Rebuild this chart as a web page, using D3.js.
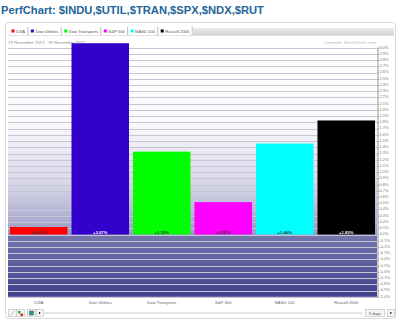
<!DOCTYPE html>
<html>
<head>
<meta charset="utf-8">
<script src="https://cdn.jsdelivr.net/npm/d3@7"></script>
<style>
  body { margin: 0; background: #fff; }
  text { font-family: Arial, "Liberation Sans", sans-serif; }
</style>
</head>
<body>
<div id="chart"></div>
<script>
var categories = ["DJIA", "Dow Utilities", "Dow Transports", "S&P 500", "NASD 100", "Russell 2000"];
var changes = [0.12, 3.07, 1.33, 0.52, 1.46, 1.83];
var barColors = ["#ff0000", "#3300cc", "#00ff00", "#ff00ff", "#00ffff", "#000000"];
var labelColors = ["#333", "#fff", "#333", "#333", "#333", "#fff"];
var yTicks = d3.range(-10, 31).map(function (d) { return d / 10; });

var W = 400, H = 321;
var svg = d3.select("#chart").append("svg").attr("width", W).attr("height", H);

// title
svg.append("text").text("PerfChart: $INDU,$UTIL,$TRAN,$SPX,$NDX,$RUT")
    .attr("x", 1).attr("y", 14).attr("font-size", "11.2px").attr("font-weight", "bold").attr("fill", "#24649a");

// panel
svg.append("rect").attr("x", 5.5).attr("y", 22.5).attr("width", 390).attr("height", 296).attr("rx", 3)
    .attr("fill", "#fff").attr("stroke", "#d8d8d8");

// legend tabs
var defs = svg.append("defs");
var gg = defs.append("linearGradient").attr("id", "legbar").attr("x1", 0).attr("x2", 0).attr("y1", 0).attr("y2", 1);
gg.append("stop").attr("offset", 0).attr("stop-color", "#ececec");
gg.append("stop").attr("offset", 1).attr("stop-color", "#d2d2d2");

var lx = 8;
categories.forEach(function (c, i) {
    var g = svg.append("g");
    g.append("rect").attr("x", lx + 3.5).attr("y", 29.5).attr("width", 3).attr("height", 3).attr("fill", barColors[i]);
    var t = g.append("text").text(c).attr("x", lx + 8).attr("y", 32.6).attr("font-size", "4.2px").attr("fill", "#555");
    var tw = t.node().getComputedTextLength();
    lx = lx + 8 + tw + 2.3;
    g.append("line").attr("x1", lx + 0.5).attr("x2", lx + 0.5).attr("y1", 27).attr("y2", 35).attr("stroke", "#bbb");
});
svg.append("rect").attr("x", lx + 1).attr("y", 28).attr("width", 394 - lx - 1).attr("height", 7).attr("fill", "url(#legbar)");
svg.append("line").attr("x1", 8).attr("x2", 394).attr("y1", 35.5).attr("y2", 35.5).attr("stroke", "#e2e2e2");

// date + copyright
svg.append("text").text("23 November 2012 - 30 November 2012")
    .attr("x", 8).attr("y", 43.5).attr("font-size", "4.3px").attr("fill", "#777");
svg.append("text").text("Copyright, StockCharts.com")
    .attr("x", 376).attr("y", 43.5).attr("text-anchor", "end").attr("font-size", "4.2px").attr("fill", "#aaa");

// scales
var x = d3.scaleBand().domain(categories).range([8, 377]).paddingInner(0.065).paddingOuter(0.0325);
var y = d3.scaleLinear().domain([-1, 3]).range([296.8, 47.6]);

// plot background
var bg = defs.append("linearGradient").attr("id", "plotbg").attr("gradientUnits", "userSpaceOnUse")
    .attr("x1", 0).attr("x2", 0).attr("y1", y(3)).attr("y2", y(-1));
var f0 = (y(0) - y(3)) / (y(-1) - y(3));
bg.append("stop").attr("offset", 0).attr("stop-color", "#ffffff");
bg.append("stop").attr("offset", 0.3).attr("stop-color", "#fafafc");
bg.append("stop").attr("offset", 0.55).attr("stop-color", "#d6d6e8");
bg.append("stop").attr("offset", f0).attr("stop-color", "#9a9ac4");
bg.append("stop").attr("offset", f0 + 0.001).attr("stop-color", "#7676ae");
bg.append("stop").attr("offset", 1).attr("stop-color", "#40408c");

svg.append("rect").attr("x", 8).attr("y", y(3) - 4).attr("width", 369).attr("height", y(-1) - y(3) + 4)
    .attr("fill", "url(#plotbg)");

// gridlines
svg.append("g").selectAll("line").data(yTicks).enter().append("line")
    .attr("x1", 8).attr("x2", 377)
    .attr("y1", function (d) { return Math.round(y(d)) + 0.5; })
    .attr("y2", function (d) { return Math.round(y(d)) + 0.5; })
    .attr("stroke", "#c6c6d6").attr("stroke-width", 1);

// bars
svg.append("g").selectAll("rect").data(changes).enter().append("rect")
    .attr("x", function (d, i) { return x(categories[i]); })
    .attr("width", x.bandwidth())
    .attr("y", function (d) { return y(Math.max(0, d)); })
    .attr("height", function (d) { return Math.abs(y(d) - y(0)); })
    .attr("fill", function (d, i) { return barColors[i]; });

svg.append("g").selectAll("text").data(changes).enter().append("text")
    .text(function (d) { return (d >= 0 ? "+" : "") + d.toFixed(2) + "%"; })
    .attr("x", function (d, i) { return x(categories[i]) + x.bandwidth() / 2; })
    .attr("y", y(0) - 0.8)
    .attr("text-anchor", "middle").attr("font-size", "4.2px").attr("font-weight", "bold")
    .attr("fill", function (d, i) { return labelColors[i]; });

// y axis on the right
var yAxis = d3.axisRight(y).tickValues(yTicks).tickSize(1.5).tickPadding(0.5)
    .tickFormat(function (d) { return d.toFixed(1) + "%"; });
var ya = svg.append("g").attr("transform", "translate(377.5,0)").call(yAxis);
ya.select(".domain").attr("stroke", "#999");
ya.selectAll(".tick line").attr("stroke", "#999");
ya.selectAll(".tick text").attr("font-size", "4px").attr("fill", "#777").attr("dy", "0.1em");

// x labels
svg.append("g").selectAll("text").data(categories).enter().append("text")
    .text(function (d) { return d; })
    .attr("x", function (d) { return x(d) + x.bandwidth() / 2; })
    .attr("y", 303.5)
    .attr("text-anchor", "middle").attr("font-size", "4.2px").attr("fill", "#666");

// bottom toolbar
svg.append("line").attr("x1", 44).attr("x2", 362).attr("y1", 313).attr("y2", 313).attr("stroke", "#ddd").attr("stroke-width", 1.5);
var btns = [[8, 8], [16, 8], [27, 8], [36, 7], [365, 19], [387, 7]];
btns.forEach(function (b) {
    svg.append("rect").attr("x", b[0] + 0.5).attr("y", 309.5).attr("width", b[1]).attr("height", 7)
        .attr("fill", "#f6f6f6").attr("stroke", "#bbb").attr("stroke-width", 0.6);
});
svg.append("line").attr("x1", 10).attr("x2", 15).attr("y1", 315).attr("y2", 311).attr("stroke", "#8c8").attr("stroke-width", 0.7);
svg.append("rect").attr("x", 18).attr("y", 311).attr("width", 2.5).attr("height", 2.5).attr("fill", "#2a2");
svg.append("rect").attr("x", 20.5).attr("y", 313.5).attr("width", 2.5).attr("height", 2.5).attr("fill", "#d22");
svg.append("rect").attr("x", 29.5).attr("y", 311).attr("width", 4).attr("height", 4).attr("fill", "#2a9a9a").attr("stroke", "#333").attr("stroke-width", 0.4);
svg.append("rect").attr("x", 39).attr("y", 312).attr("width", 1.2).attr("height", 2).attr("fill", "#222");
svg.append("rect").attr("x", 390.2).attr("y", 312).attr("width", 1.2).attr("height", 2).attr("fill", "#222");
svg.append("text").text("5 days").attr("x", 375).attr("y", 314.5).attr("text-anchor", "middle")
    .attr("font-size", "4.2px").attr("fill", "#555");
</script>
</body>
</html>
